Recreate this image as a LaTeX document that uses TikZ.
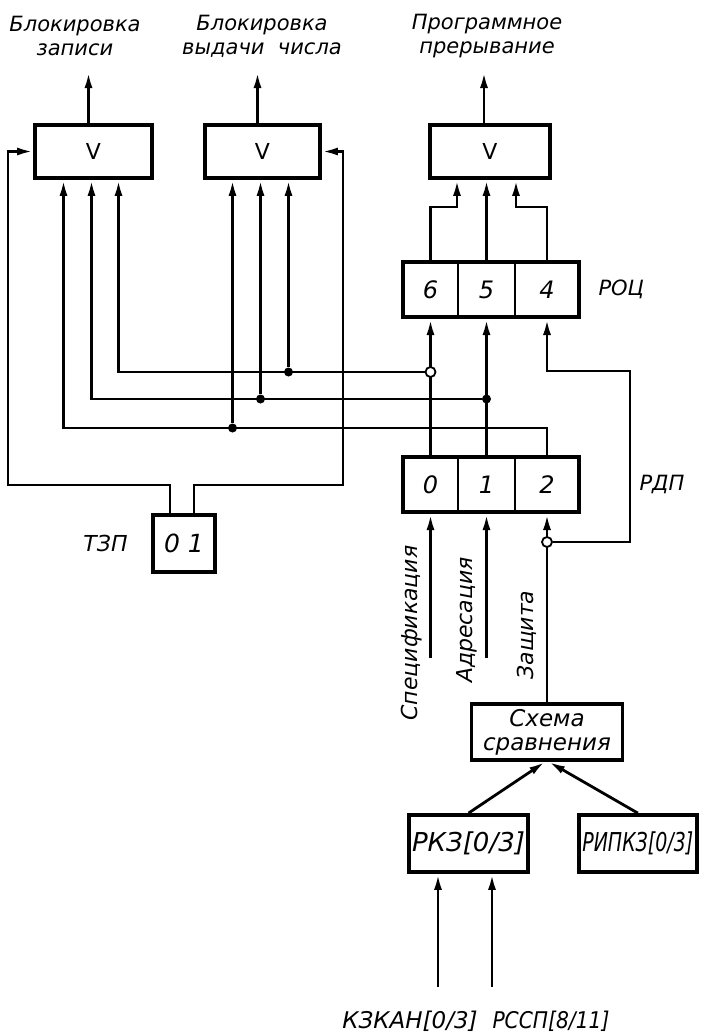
\documentclass[tikz,border=0pt]{standalone}
\usepackage{fontspec}
\setmainfont{DejaVu Sans}
\usetikzlibrary{arrows.meta, positioning, fit}
\tikzset{box/.style={draw, line width=3.8pt, inner sep=0pt},
orbox/.style={box, minimum width=117pt, minimum height=53pt, font=\fontsize{22}{24}\selectfont},
cell/.style={draw, line width=2.8pt, outer sep=0pt, inner sep=0pt, minimum height=55pt, font=\itshape\fontsize{24}{26}\selectfont},
regframe/.style={draw, line width=4pt, inner sep=0pt},
wire/.style={line width=2.8pt},
dot/.style={circle, fill, inner sep=0pt, minimum size=9pt},
odot/.style={circle, draw, fill=white, line width=1.8pt, inner sep=0pt, minimum size=10pt},
lbl/.style={align=center},
side/.style={rotate=90, font=\itshape\fontsize{22}{24}\selectfont}}

\begin{document}
\begin{tikzpicture}[x=1pt, y=-1pt, >={Latex[length=16pt,width=8pt]}, every node/.style={font=\itshape\fontsize{21}{24}\selectfont}]
\useasboundingbox (0,0) rectangle (702,1036);
\node[orbox] (orA) at (93.5,151.5) {V};
\node[orbox, minimum width=115pt] (orB) at (262.5,151.5) {V};
\node[orbox, minimum width=120pt] (orC) at (490,151.5) {V};
\node[lbl] (outA) at (75,36) {Блокировка\\записи};
\node[lbl] (outB) at (262,36) {Блокировка\\выдачи~~числа};
\node[lbl] (outC) at (487,36) {Программное\\прерывание};
\node[cell, minimum width=55pt] (roc6) at (430.5,289.5) {6};
\node[cell, minimum width=57pt, right=0pt of roc6] (roc5) {5};
\node[cell, minimum width=64pt, right=0pt of roc5] (roc4) {4};
\node[regframe, fit=(roc6)(roc4)] (roc) {};
\node[right=14pt of roc] (rocL) {РОЦ};
\node[cell, minimum width=55pt] (rdp0) at (430.5,484.5) {0};
\node[cell, minimum width=57pt, right=0pt of rdp0] (rdp1) {1};
\node[cell, minimum width=64pt, right=0pt of rdp1] (rdp2) {2};
\node[regframe, fit=(rdp0)(rdp2)] (rdp) {};
\node[right=55pt of rdp] (rdpL) {РДП};
\node[box, minimum width=62pt, minimum height=57pt, font=\itshape\fontsize{25}{26}\selectfont] (tzp) at (184,543.5) {0 1};
\node[left=20pt of tzp, font=\itshape\fontsize{22}{24}\selectfont] (tzpL) {ТЗП};
\node[box, lbl, minimum width=151pt, minimum height=56pt, font=\itshape\fontsize{23}{24}\selectfont] (cmp) at (547,732) {Схема\\сравнения};
\node[box, minimum width=119pt, minimum height=57pt, font=\itshape\fontsize{26}{28}\selectfont] (rkz) at (468.5,843.5) {РКЗ[0/3]};
\node[box, minimum width=118pt, minimum height=57pt, right=47pt of rkz, font=\itshape\fontsize{26}{28}\selectfont] (ripkz) {\scalebox{0.73}[1]{РИПКЗ[0/3]}};
\node[side] (lSpec) at (412,633) {Спецификация};
\node[side] (lAdr) at (467,620) {Адресация};
\node[side] (lZas) at (527,635) {Защита};
\node[font=\itshape\fontsize{23}{24}\selectfont] (lK) at (410,1021) {КЗКАН[0/3]};
\node[font=\itshape\fontsize{23}{24}\selectfont] (lR) at (551,1021) {\scalebox{0.88}[1]{РССП[8/11]}};
\coordinate (topY) at (0,72);
\coordinate (bendC) at (0,207);
\coordinate (bus1) at (0,372);
\coordinate (bus2) at (0,399);
\coordinate (bus3) at (0,428);
\coordinate (lowY) at (0,485);
\coordinate (loopY) at (0,542);
\coordinate (loopX) at (630,371);
\coordinate (inY) at (0,658);
\coordinate (leftX) at (8,0);
\coordinate (rightX) at (343,0);
\coordinate (oA) at ([xshift=-5pt]orA.north);
\coordinate (oB) at ([xshift=-5pt]orB.north);
\coordinate (oC) at ([xshift=-6pt]orC.north);
\coordinate (inA1) at ([xshift=-30pt]orA.south);
\coordinate (inA2) at ([xshift=-2pt]orA.south);
\coordinate (inA3) at ([xshift=25pt]orA.south);
\coordinate (inB1) at ([xshift=-30pt]orB.south);
\coordinate (inB2) at ([xshift=-2pt]orB.south);
\coordinate (inB3) at ([xshift=26pt]orB.south);
\coordinate (inC1) at ([xshift=-33pt]orC.south);
\coordinate (inC3) at ([xshift=26pt]orC.south);
\coordinate (tzp0) at ([xshift=-14pt]tzp.north);
\coordinate (tzp1) at ([xshift=10pt]tzp.north);
\coordinate (inK) at (438,987);
\coordinate (inR) at (492,987);
\draw[wire,->] (oA) -- (oA |- topY);
\draw[wire,->] (oB) -- (oB |- topY);
\draw[wire,->] (oC) -- (oC |- topY);
\draw[wire,->] (roc6.north) |- (inC1 |- bendC) -- (inC1);
\draw[wire,->] (roc5.north) -- (roc5.north |- orC.south);
\draw[wire,->] (roc4.north) |- (inC3 |- bendC) -- (inC3);
\draw[wire,->] (rdp0.north) -- (roc6 |- roc.south);
\draw[wire,->] (rdp1.north) -- (roc5 |- roc.south);
\node[odot] (oc1) at (roc6 |- bus1) {};
\node[dot] (d1) at (inB3 |- bus1) {};
\node[dot] (d2) at (roc5 |- bus2) {};
\node[dot] (d2b) at (inB2 |- bus2) {};
\node[dot] (d3) at (inB1 |- bus3) {};
\draw[wire,->] (oc1) -| (inA3);
\draw[wire,->] (d1) -- (inB3);
\draw[wire,->] (d2) -| (inA2);
\draw[wire,->] (d2b) -- (inB2);
\draw[wire,->] (rdp2.north) |- (inA1 |- bus3) -- (inA1);
\draw[wire,->] (d3) -- (inB1);
\draw[wire,->] (tzp0) |- (leftX |- lowY) |- (orA.west);
\draw[wire,->] (tzp1) |- (rightX |- lowY) |- (orB.east);
\draw[wire,->] (cmp.north) -- (rdp2 |- rdp.south);
\node[odot] (oc2) at (rdp2 |- loopY) {};
\draw[wire,->] (oc2) -| (loopX) -| (roc4 |- roc.south);
\draw[wire,->] (rdp0 |- inY) -- (rdp0 |- rdp.south);
\draw[wire,->] (rdp1 |- inY) -- (rdp1 |- rdp.south);
\draw[wire,->] (rkz.north) -- ([xshift=-2pt]cmp.south);
\draw[wire,->] (ripkz.north) -- ([xshift=2pt]cmp.south);
\draw[wire,->] (inK) -- (inK |- rkz.south);
\draw[wire,->] (inR) -- (inR |- rkz.south);
\end{tikzpicture}
\end{document}
